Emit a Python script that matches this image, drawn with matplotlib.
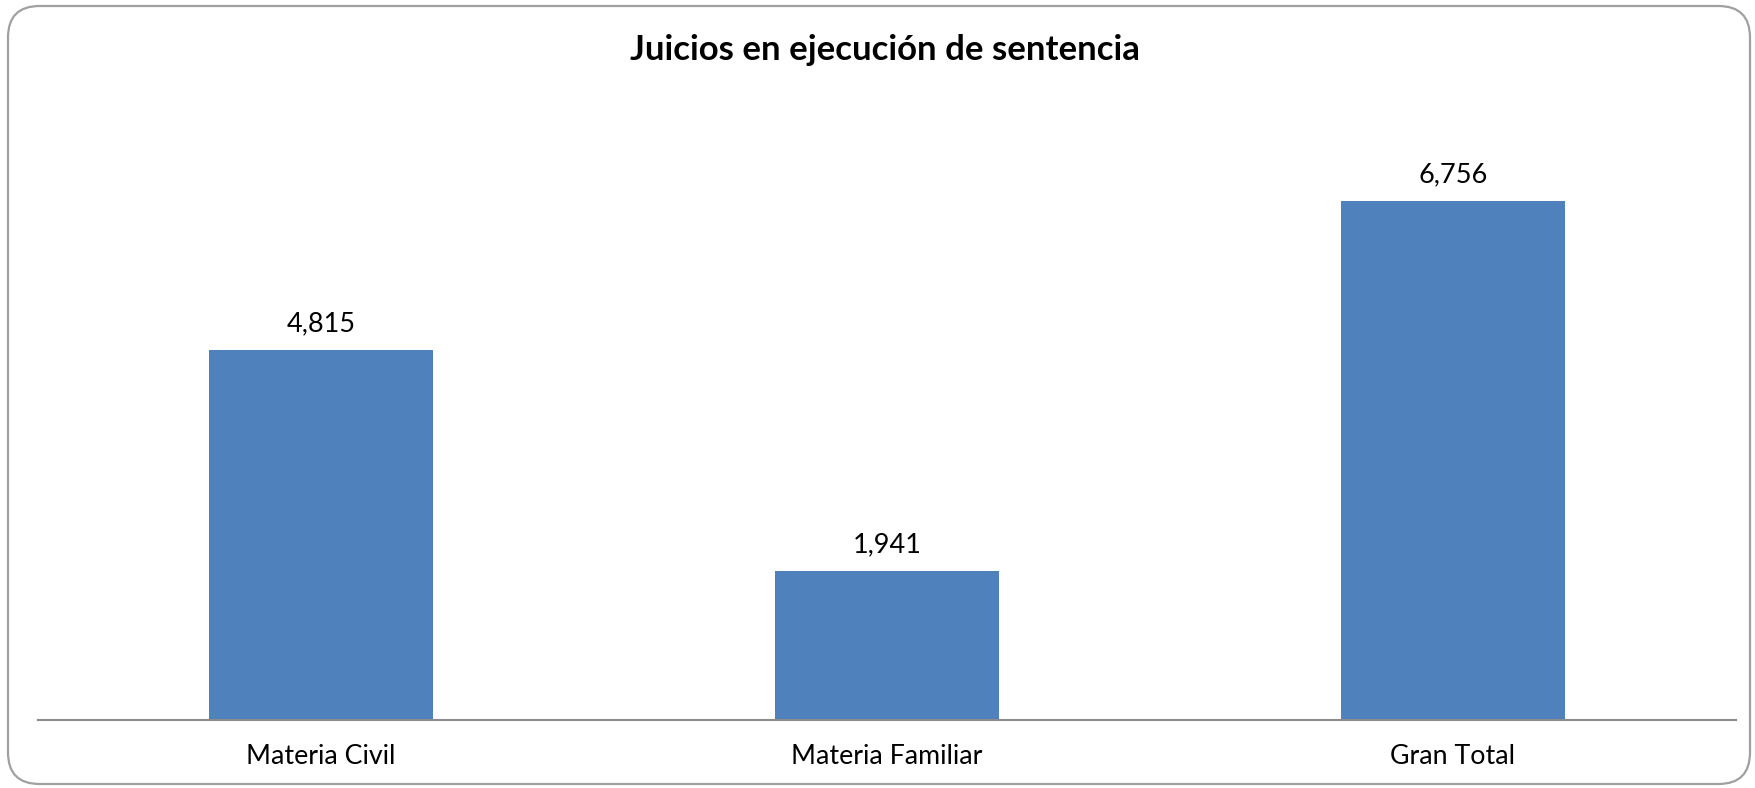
import matplotlib.pyplot as plt
from matplotlib.patches import FancyBboxPatch

# Datos del gráfico
categorias = ['Materia Civil', 'Materia Familiar', 'Gran Total']
valores = [4815, 1941, 6756]
titulo = 'Juicios en ejecución de sentencia'

plt.rcParams['font.family'] = ['Lato', 'DejaVu Sans']

fig = plt.figure(figsize=(17.56, 7.88), dpi=100)
ax = fig.add_axes([0.0216, 0.0863, 0.967, 0.7792])

x = range(len(categorias))
barras = ax.bar(x, valores, width=0.396, color='#4F81BD')

# Etiquetas de valor sobre cada barra
for b, v in zip(barras, valores):
    ax.annotate(f'{v:,}', (b.get_x() + b.get_width() / 2, v),
                xytext=(0, 19), textcoords='offset points',
                ha='center', va='center', fontsize=19.5)

ax.set_xlim(-0.5, 2.5)
ax.set_ylim(0, 8000)
ax.set_xticks(list(x))
ax.set_xticklabels(categorias, fontsize=19.3)
ax.tick_params(axis='x', length=0, pad=17)
ax.set_yticks([])

for s in ['top', 'right', 'left']:
    ax.spines[s].set_visible(False)
ax.spines['bottom'].set_color('#8c8c8c')
ax.spines['bottom'].set_linewidth(1.5)

fig.text(0.504, 0.936, titulo, ha='center', va='center',
         fontsize=25, fontweight='bold')

# Marco redondeado del gráfico
marco = FancyBboxPatch((8 / 1756, 4 / 788), 1742 / 1756, 778 / 788,
                       boxstyle='round,pad=0,rounding_size=0.018',
                       transform=fig.transFigure, fill=False,
                       edgecolor='#a0a0a0', linewidth=1.6,
                       mutation_aspect=1756 / 788)
fig.patches.append(marco)

fig.savefig('out.png', dpi=100)
